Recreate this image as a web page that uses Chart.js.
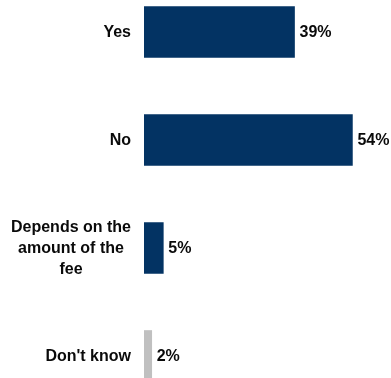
<!DOCTYPE html>
<html>
<head>
<meta charset="utf-8">
<script src="https://cdn.jsdelivr.net/npm/chart.js@4.4.0/dist/chart.umd.min.js"></script>
<style>
  html, body { margin: 0; padding: 0; background: #fff; overflow: hidden; }
  #wrap { position: absolute; left: 0; top: -22px; width: 391px; height: 432px; }
</style>
</head>
<body>
<div id="wrap"><canvas id="chart"></canvas></div>
<script>
const categories = ['Yes', 'No', ['Depends on the', 'amount of the', 'fee'], "Don't know"];
const shares = [39, 54, 5, 2];
const barColors = ['#033363', '#033363', '#033363', '#c0c0c0'];

const FONT = 'bold 16px "Liberation Sans", Arial, sans-serif';

// category names on the left and percentages after each bar
const labelPlugin = {
    id: 'labels',
    afterDatasetsDraw(chart) {
        const ctx = chart.ctx;
        const meta = chart.getDatasetMeta(0);
        const labelRight = chart.chartArea.left - 13;
        ctx.save();
        ctx.font = FONT;
        ctx.fillStyle = '#0a0a0a';
        ctx.textBaseline = 'middle';
        meta.data.forEach((bar, i) => {
            ctx.textAlign = 'left';
            ctx.fillText(shares[i] + '%', bar.x + 5, bar.y + 1);

            let lines = Array.isArray(categories[i]) ? categories[i] : [categories[i]];
            if (lines.length === 1) {
                ctx.textAlign = 'right';
                ctx.fillText(lines[0], labelRight, bar.y + 1);
            } else {
                let maxW = Math.max(...lines.map(l => ctx.measureText(l).width));
                let cx = labelRight - maxW / 2;
                let lh = 21;
                let y0 = bar.y + 1 - lh * (lines.length - 1) / 2;
                ctx.textAlign = 'center';
                lines.forEach((l, k) => ctx.fillText(l, cx, y0 + k * lh));
            }
        });
        ctx.restore();
    }
};

new Chart(document.getElementById('chart'), {
    type: 'bar',
    data: {
        labels: categories,
        datasets: [{
            data: shares,
            backgroundColor: barColors,
            barThickness: 51,
            borderWidth: 0
        }]
    },
    options: {
        indexAxis: 'y',
        responsive: true,
        maintainAspectRatio: false,
        animation: false,
        layout: { padding: 0 },
        plugins: {
            legend: { display: false },
            tooltip: { enabled: false }
        },
        scales: {
            x: {
                min: 0,
                max: 64,
                display: false
            },
            y: {
                offset: true,
                grid: { display: false },
                border: { display: false },
                ticks: { display: false },
                afterFit: (scale) => { scale.width = 144; }
            }
        }
    },
    plugins: [labelPlugin]
});
</script>
</body>
</html>
